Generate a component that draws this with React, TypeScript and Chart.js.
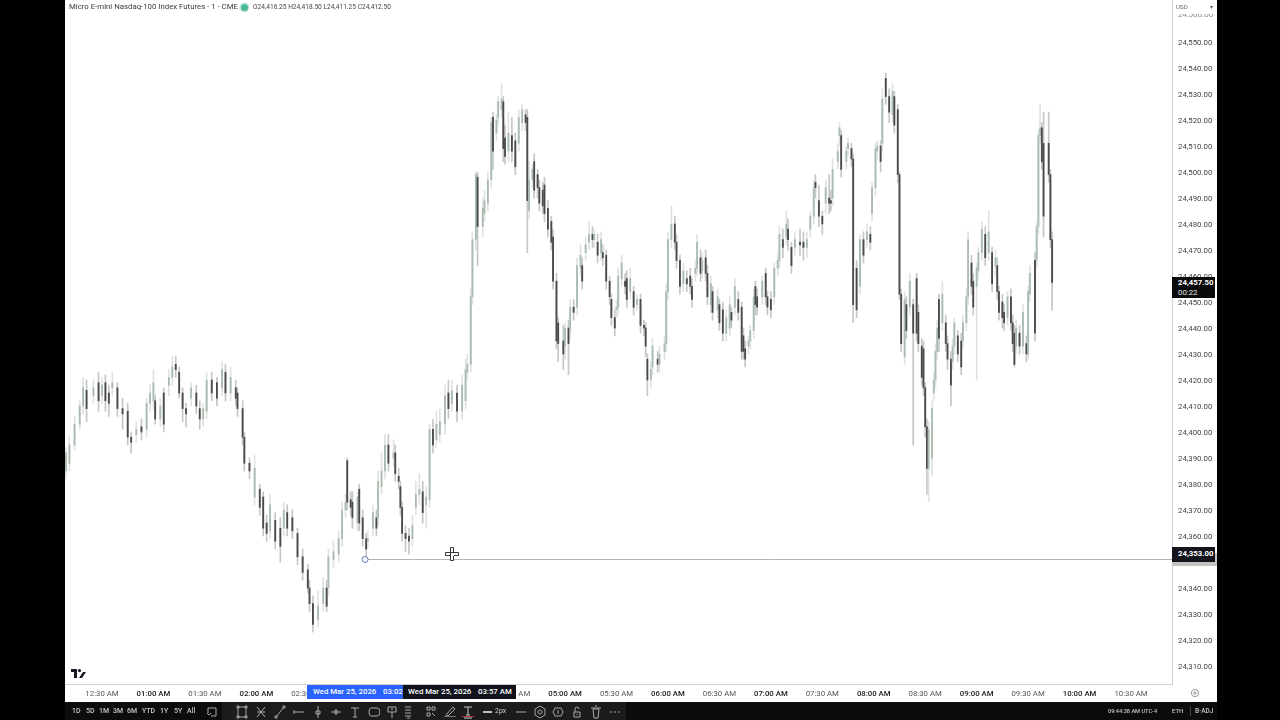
import React, { useEffect, useRef } from "react";
import { Chart, registerables } from "chart.js";

Chart.register(...registerables);

const FONT = 'Roboto, sans-serif';

// minutes since midnight, one entry per bar
const barTimes = [
  9,11,14,17,19,21,25,28,30,32,
  34,36,39,42,45,47,50,53,56,58,
  60,61,64,66,69,71,73,75,77,79,
  82,85,87,89,91,94,97,100,102,105,
  108,109,112,113,116,119,122,124,126,128,
  131,134,136,138,141,144,147,150,151,153,
  156,159,161,162,165,168,170,172,173,175,
  176,179,180,182,184,185,188,190,191,193,
  195,197,200,201,203,204,205,207,209,211,
  213,215,217,219,221,223,225,227,230,232,
  234,237,240,242,243,245,246,248,249,252,
  253,255,257,258,260,261,263,264,265,267,
  269,271,273,275,277,278,279,281,282,284,
  285,287,288,290,292,293,295,296,299,300,
  302,303,305,307,309,310,312,314,316,317,
  319,321,322,324,326,327,329,330,331,333,
  335,336,338,340,342,344,346,347,348,350,
  351,354,355,358,359,360,362,364,365,367,
  369,371,373,374,376,377,379,380,382,383,
  385,386,389,390,392,394,396,397,399,401,
  403,404,405,407,408,410,411,412,415,417,
  418,420,422,424,425,427,429,430,432,434,
  437,439,441,443,445,446,448,450,452,454,
  455,456,459,460,461,464,465,467,468,470,
  472,474,476,478,479,481,482,484,485,487,
  489,491,492,494,495,496,498,499,501,503,
  505,506,508,509,510,511,512,514,515,516,
  517,518,520,522,523,525,526,527,529,531,
  532,534,535,537,538,540,541,543,545,547,
  549,551,552,553,555,556,558,560,561,562,
  563,565,567,569,570,571,574,575,576,577,
  578,579,582,583,584,
];

const barOpens = [
  24385,24388,24395,24403,24410,24416,24414,24419,24414,24419,
  24415,24417,24417,24409,24408,24398,24399,24402,24401,24411,
  24412,24412,24405,24415,24418,24421,24426,24423,24415,24409,
  24413,24415,24409,24405,24408,24420,24419,24417,24423,24415,
  24417,24415,24409,24398,24388,24375,24378,24375,24365,24362,
  24366,24363,24363,24369,24367,24361,24352,24347,24340,24334,
  24328,24334,24340,24340,24351,24353,24359,24370,24389,24374,
  24373,24365,24378,24367,24359,24358,24363,24367,24367,24379,
  24385,24395,24390,24392,24383,24379,24371,24361,24360,24359,
  24371,24376,24377,24372,24374,24401,24397,24399,24403,24415,
  24411,24415,24408,24412,24423,24426,24452,24474,24498,24479,
  24484,24488,24497,24521,24515,24521,24524,24527,24513,24508,
  24514,24512,24511,24519,24522,24521,24485,24497,24504,24499,
  24494,24493,24495,24486,24481,24475,24458,24442,24435,24433,
  24440,24439,24448,24448,24463,24464,24469,24473,24476,24474,
  24473,24469,24469,24468,24458,24451,24444,24447,24448,24459,
  24458,24459,24454,24454,24449,24451,24441,24440,24428,24420,
  24425,24428,24426,24431,24434,24454,24474,24480,24473,24466,
  24457,24459,24460,24456,24461,24463,24467,24462,24467,24461,
  24449,24454,24447,24449,24447,24438,24440,24446,24448,24451,
  24448,24437,24432,24433,24435,24439,24456,24452,24452,24461,
  24452,24451,24452,24463,24466,24474,24475,24478,24471,24471,
  24473,24473,24471,24478,24483,24496,24489,24483,24488,24490,
  24489,24490,24504,24514,24514,24504,24509,24509,24505,24463,
  24456,24474,24474,24476,24484,24494,24508,24510,24511,24536,
  24529,24522,24529,24524,24499,24453,24429,24449,24448,24449,
  24459,24446,24433,24432,24417,24402,24386,24390,24415,24420,
  24431,24451,24442,24442,24434,24428,24427,24433,24437,24435,
  24435,24442,24452,24465,24458,24456,24462,24469,24476,24469,
  24469,24464,24464,24454,24450,24446,24444,24452,24442,24438,
  24433,24438,24433,24434,24430,24453,24466,24466,24479,24514,
  24517,24511,24511,24499,24474,
];

const barHighs = [
  24394,24398,24406,24412,24421,24420,24420,24423,24421,24422,
  24418,24423,24419,24413,24411,24400,24404,24405,24413,24418,
  24424,24414,24413,24417,24424,24429,24429,24425,24417,24411,
  24419,24418,24412,24411,24423,24423,24421,24427,24426,24425,
  24420,24417,24412,24400,24390,24391,24380,24377,24368,24376,
  24369,24367,24373,24372,24370,24363,24355,24349,24343,24337,
  24339,24344,24343,24355,24358,24362,24373,24376,24390,24377,
  24377,24377,24380,24370,24361,24362,24372,24370,24385,24392,
  24399,24399,24397,24395,24386,24381,24373,24364,24363,24368,
  24381,24384,24381,24379,24403,24405,24408,24409,24418,24420,
  24420,24418,24422,24428,24430,24455,24477,24500,24500,24490,
  24493,24500,24521,24523,24522,24529,24534,24529,24518,24523,
  24521,24515,24524,24526,24524,24524,24504,24503,24507,24501,
  24497,24496,24498,24489,24483,24478,24461,24444,24441,24442,
  24443,24451,24451,24467,24472,24467,24475,24481,24479,24478,
  24476,24477,24472,24470,24460,24453,24447,24451,24463,24468,
  24461,24462,24463,24456,24453,24453,24443,24442,24430,24427,
  24436,24431,24433,24437,24457,24477,24487,24483,24476,24468,
  24465,24462,24463,24459,24466,24476,24470,24469,24470,24464,
  24460,24456,24455,24451,24450,24447,24452,24448,24459,24454,
  24450,24440,24435,24437,24441,24455,24458,24455,24460,24463,
  24454,24454,24465,24469,24479,24478,24485,24482,24473,24477,
  24478,24477,24477,24485,24497,24499,24495,24485,24497,24499,
  24493,24505,24511,24519,24516,24510,24513,24511,24507,24466,
  24476,24477,24480,24479,24496,24511,24512,24512,24532,24538,
  24532,24534,24531,24526,24500,24455,24454,24452,24461,24451,
  24461,24449,24436,24435,24419,24405,24404,24412,24423,24434,
  24443,24453,24458,24445,24437,24431,24436,24444,24439,24438,
  24445,24455,24477,24468,24461,24465,24471,24481,24479,24485,
  24471,24470,24467,24456,24453,24449,24454,24455,24445,24441,
  24443,24441,24449,24437,24456,24464,24469,24481,24516,24526,
  24519,24523,24523,24501,24477,
];

const barLows = [
  24382,24385,24393,24401,24407,24404,24411,24408,24411,24408,
  24406,24414,24406,24401,24395,24392,24396,24397,24398,24408,
  24409,24403,24402,24400,24414,24418,24421,24413,24404,24402,
  24410,24407,24401,24402,24405,24412,24410,24414,24412,24412,
  24410,24406,24395,24385,24382,24372,24368,24360,24358,24359,
  24355,24350,24360,24360,24359,24349,24343,24338,24331,24323,
  24325,24331,24331,24337,24348,24350,24356,24367,24370,24368,
  24363,24362,24362,24356,24352,24355,24360,24360,24364,24376,
  24382,24385,24387,24381,24378,24368,24358,24354,24353,24356,
  24368,24372,24365,24363,24371,24392,24394,24396,24399,24405,
  24408,24404,24405,24409,24420,24423,24449,24470,24464,24475,
  24481,24485,24494,24501,24512,24518,24521,24504,24503,24504,
  24504,24499,24508,24516,24516,24469,24482,24494,24490,24490,
  24485,24484,24481,24475,24470,24455,24432,24427,24424,24428,
  24422,24436,24443,24445,24460,24455,24466,24470,24471,24471,
  24465,24466,24464,24455,24449,24441,24437,24444,24445,24456,
  24453,24448,24451,24445,24447,24438,24437,24429,24414,24417,
  24422,24423,24423,24428,24431,24451,24471,24470,24463,24453,
  24454,24454,24453,24448,24458,24460,24458,24459,24458,24449,
  24446,24443,24444,24439,24435,24435,24437,24440,24445,24443,
  24428,24428,24425,24430,24432,24436,24445,24445,24449,24449,
  24445,24444,24449,24460,24463,24467,24472,24470,24461,24468,
  24468,24466,24467,24475,24480,24490,24479,24476,24484,24484,
  24485,24487,24501,24510,24498,24501,24506,24502,24442,24444,
  24453,24465,24471,24470,24481,24491,24505,24500,24508,24526,
  24519,24519,24515,24496,24451,24431,24426,24436,24445,24395,
  24435,24431,24418,24414,24398,24376,24373,24383,24412,24417,
  24428,24431,24439,24431,24424,24410,24424,24430,24427,24422,
  24432,24439,24449,24453,24445,24420,24459,24466,24464,24466,
  24454,24460,24451,24443,24440,24439,24441,24439,24431,24425,
  24430,24430,24430,24427,24428,24450,24435,24463,24476,24511,
  24501,24475,24496,24471,24447,
];

const barCloses = [
  24392,24395,24403,24410,24417,24409,24417,24412,24418,24412,
  24411,24419,24409,24407,24398,24396,24401,24400,24411,24415,
  24419,24405,24410,24403,24421,24425,24424,24415,24409,24407,
  24417,24410,24405,24409,24420,24415,24413,24424,24415,24421,
  24413,24409,24398,24388,24385,24386,24371,24363,24361,24372,
  24358,24356,24370,24363,24362,24352,24346,24340,24334,24326,
  24333,24340,24333,24352,24354,24359,24370,24373,24373,24371,
  24367,24375,24365,24359,24355,24359,24369,24363,24381,24385,
  24395,24388,24392,24384,24381,24371,24361,24359,24358,24364,
  24376,24378,24369,24375,24401,24395,24403,24404,24414,24409,
  24416,24408,24418,24424,24426,24452,24474,24499,24479,24486,
  24489,24497,24519,24508,24520,24527,24528,24509,24506,24515,
  24508,24502,24521,24524,24519,24489,24497,24501,24493,24494,
  24488,24487,24484,24478,24473,24458,24435,24434,24430,24440,
  24434,24448,24446,24464,24468,24458,24472,24476,24474,24476,
  24468,24474,24467,24458,24452,24444,24440,24448,24460,24465,
  24456,24451,24459,24448,24451,24441,24440,24433,24420,24424,
  24433,24426,24430,24434,24454,24474,24480,24473,24466,24456,
  24462,24457,24456,24451,24463,24473,24461,24466,24461,24452,
  24457,24446,24452,24442,24438,24444,24449,24443,24456,24446,
  24431,24431,24428,24435,24439,24452,24449,24448,24458,24452,
  24448,24447,24463,24466,24476,24471,24480,24474,24464,24474,
  24472,24471,24474,24483,24494,24494,24483,24480,24494,24488,
  24488,24501,24508,24517,24501,24508,24511,24505,24449,24447,
  24474,24468,24477,24473,24494,24509,24510,24504,24528,24529,
  24523,24531,24518,24499,24453,24434,24451,24439,24458,24438,
  24438,24434,24421,24417,24402,24386,24401,24409,24420,24431,
  24440,24436,24453,24434,24428,24418,24433,24442,24430,24425,
  24442,24452,24474,24456,24448,24463,24469,24478,24467,24477,
  24457,24467,24454,24446,24444,24442,24452,24442,24434,24426,
  24440,24433,24446,24430,24454,24461,24438,24479,24514,24517,
  24504,24483,24499,24474,24457.5,
];

const timeTicks = [30,60,90,120,150,180,210,240,270,300,330,360,390,420,450,480,510,540,570,600,630];
const priceTicks = [24310,24320,24330,24340,24350,24360,24370,24380,24390,24400,24410,24420,24430,24440,24450,24460,24470,24480,24490,24500,24510,24520,24530,24540,24550];

const xRange = [8.43, 653.9];
const yRange = [24303.08, 24566.15];

const drawnLinePrice = 24351.2;
const drawnLineStart = 183.4;
const cursorPrice = 24353;
const cursorTime = 234;

const rangeButtons = ["1D","5D","1M","3M","6M","YTD","1Y","5Y","All"];
const rangeButtonX = [72,86,99,113,127,142,160,174,187];

function formatTime(m: number) {
  const h = Math.floor(m / 60) % 24;
  const mm = m % 60;
  const h12 = h % 12 === 0 ? 12 : h % 12;
  return `${String(h12).padStart(2, "0")}:${String(mm).padStart(2, "0")} ${h < 12 ? "AM" : "PM"}`;
}

const isUp = (i: number) => barCloses[i] >= barOpens[i];

const overlay = {
  id: "overlayMarks",
  afterDatasetsDraw(chart: any) {
    const { ctx, scales, chartArea } = chart;
    const y = scales.y.getPixelForValue(drawnLinePrice);
    const x0 = scales.x.getPixelForValue(drawnLineStart);
    ctx.save();
    ctx.strokeStyle = "#b4b4b4";
    ctx.lineWidth = 1;
    ctx.beginPath();
    ctx.moveTo(x0, Math.round(y) + 0.5);
    ctx.lineTo(chartArea.right, Math.round(y) + 0.5);
    ctx.stroke();
    ctx.beginPath();
    ctx.fillStyle = "#ffffff";
    ctx.strokeStyle = "#5a78b8";
    ctx.arc(x0, Math.round(y) + 0.5, 3, 0, Math.PI * 2);
    ctx.fill();
    ctx.stroke();
    const cx = scales.x.getPixelForValue(cursorTime);
    const cy = scales.y.getPixelForValue(cursorPrice);
    ctx.fillStyle = "#ffffff";
    ctx.strokeStyle = "#333333";
    ctx.beginPath();
    ctx.rect(Math.round(cx) - 1.5, Math.round(cy) - 6.5, 3, 13);
    ctx.rect(Math.round(cx) - 6.5, Math.round(cy) - 1.5, 13, 3);
    ctx.fill();
    ctx.stroke();
    ctx.fillStyle = "#ffffff";
    ctx.fillRect(Math.round(cx) - 1, Math.round(cy) - 1, 3, 3);
    ctx.restore();
  },
};

const abs = (left: number, top: number, width: number, height: number, extra: React.CSSProperties = {}): React.CSSProperties => ({
  position: "absolute", left, top, width, height, ...extra,
});

const textStyle = (left: number, top: number, size: number, color: string, extra: React.CSSProperties = {}): React.CSSProperties => ({
  position: "absolute", left, top, fontFamily: FONT, fontSize: size, lineHeight: "12px", color, whiteSpace: "nowrap", ...extra,
});

function Icon({ x, d, color = "#a8a8a8" }: { x: number; d: string; color?: string }) {
  return (
    <svg style={{ position: "absolute", left: x - 6, top: 705 }} width={12} height={14} viewBox="0 0 12 14">
      <path d={d} fill="none" stroke={color} strokeWidth={1} />
    </svg>
  );
}

const toolIcons: [number, string][] = [
  [212, "M2 3H10V11H5M2 3V8M1 8L3 10L5 8"],
  [242, "M2 2H10V12H2ZM1 1H3V3H1ZM9 1H11V3H9ZM1 11H3V13H1ZM9 11H11V13H9Z"],
  [261, "M2 2L10 12M10 2L2 12M2 7H10"],
  [280, "M2 12L10 2M1 11H3V13H1ZM9 1H11V3H9Z"],
  [299, "M1 7H11M1 5V9"],
  [318, "M6 1V13M4 6H8V9H4Z"],
  [336, "M1 7H11M5 5H7V9H5Z"],
  [355, "M2 3H10M6 3V12M4 12H8"],
  [374, "M3 3H9A3 4 0 0 1 9 11H3A2 4 0 0 1 3 3Z"],
  [392, "M2 2H10V7H2ZM6 7V13M5 4H7"],
  [408, "M3 2H9M3 5H9M3 8H9M3 11H9M5 13H8"],
  [431, "M2 2H5V5H2ZM7 2H10V5H7ZM2 8H5V11H2ZM7 8L10 11"],
  [450, "M2 10L9 2L11 4L4 11Z"],
  [468, "M2 2H10M6 2V10M4 10H8M2 13H10"],
  [521, "M1 7H11"],
  [540, "M6 1L11 4V10L6 13L1 10V4ZM6 5A2 2 0 1 1 5.9 5"],
  [558, "M3 3H9L11 7L9 11H3L1 7ZM6 5V9"],
  [577, "M3 7H9V12H3ZM4 7V4A2 2 0 0 1 8 4M6 9V10"],
  [596, "M3 4H9L8 13H4ZM1 3H11M5 1H7"],
  [615, "M1 7H3M5 7H7M9 7H11"],
];

export default function App() {
  const ref = useRef<HTMLCanvasElement>(null);

  useEffect(() => {
    const chart = new Chart(ref.current as HTMLCanvasElement, {
      type: "bar",
      data: {
        datasets: [
          {
            label: "Range",
            order: 2,
            barThickness: 1,
            grouped: false,
            data: barTimes.map((t, i) => ({ x: t, y: [barLows[i], barHighs[i]] })),
            backgroundColor: (c: any) => (isUp(c.dataIndex) ? "#dfe3e0" : "#c6c6c6"),
          },
          {
            label: "Open / close",
            order: 1,
            barThickness: 1.2,
            grouped: false,
            data: barTimes.map((t, i) => ({ x: t, y: [barOpens[i], barCloses[i]] })),
            backgroundColor: (c: any) => (isUp(c.dataIndex) ? "#aabbaf" : "#4a4a4a"),
          },
        ] as any,
      },
      options: {
        responsive: false,
        animation: false,
        layout: { padding: { left: 65, right: 63, top: 0, bottom: 18 } },
        plugins: { legend: { display: false }, tooltip: { enabled: false }, title: { display: false } },
        scales: {
          x: {
            type: "linear",
            offset: false,
            min: xRange[0],
            max: xRange[1],
            grid: { display: false, drawTicks: false },
            border: { display: true, color: "#cfcfcf" },
            afterBuildTicks: (s: any) => { s.ticks = timeTicks.map((value) => ({ value })); },
            afterFit: (s: any) => { s.height = 18; s.paddingLeft = 0; s.paddingRight = 0; },
            ticks: {
              autoSkip: false,
              maxRotation: 0,
              padding: 5,
              callback: (v: any) => formatTime(Number(v)),
              font: (c: any) => ({ family: FONT, size: 7.8, weight: c.tick && c.tick.value % 60 === 0 ? "500" : "400" }),
              color: (c: any) => (c.tick && c.tick.value % 60 === 0 ? "#222222" : "#555555"),
            },
          },
          y: {
            type: "linear",
            position: "right",
            min: yRange[0],
            max: yRange[1],
            grid: { display: false, drawTicks: false },
            border: { display: true, color: "#cfcfcf" },
            afterBuildTicks: (s: any) => { s.ticks = priceTicks.map((value) => ({ value })); },
            afterFit: (s: any) => { s.width = 45; s.paddingTop = 0; s.paddingBottom = 0; },
            ticks: {
              autoSkip: false,
              padding: 6,
              labelOffset: 1,
              crossAlign: "near",
              callback: (v: any) => Number(v).toLocaleString("en-US", { minimumFractionDigits: 2, maximumFractionDigits: 2 }),
              font: { family: FONT, size: 7.8 },
              color: "#444444",
            },
          },
        },
      } as any,
      plugins: [overlay],
    });
    return () => chart.destroy();
  }, []);

  return (
    <div style={{ position: "fixed", left: 0, top: 0, width: 1280, height: 720, overflow: "hidden", background: "#ffffff" }}>
      <canvas ref={ref} width={1280} height={720} style={{ position: "absolute", left: 0, top: 0, width: 1280, height: 720 }} />

      {/* side pillars and bottom toolbar */}
      <div style={abs(0, 0, 65, 720, { background: "#000" })} />
      <div style={abs(1217, 0, 63, 720, { background: "#000" })} />
      <div style={abs(65, 702, 1152, 18, { background: "#0c0c0c" })} />
      <div style={abs(222, 702, 404, 18, { background: "#1c1c1c" })} />

      {/* header */}
      <div style={textStyle(69, 1, 7.8, "#3a3a3a")}>Micro E-mini Nasdaq-100 Index Futures - 1 - CME</div>
      <div style={abs(241, 4, 7, 7, { background: "#4db89a", borderRadius: 4, boxShadow: "0 0 0 1.5px #c4e8dd" })} />
      <div style={textStyle(253, 1, 6.6, "#444")}>O24,416.25 H24,418.50 L24,411.25 C24,412.50</div>

      {/* currency */}
      <div style={textStyle(1176, 1, 6.2, "#666")}>USD</div>
      <div style={textStyle(1210, 1, 6.2, "#666")}>▾</div>
      <div style={abs(1178, 14, 36, 3, { overflow: "hidden" })}>
        <div style={textStyle(0, -5, 8, "#888")}>24,560.00</div>
      </div>

      {/* last price tag */}
      <div style={abs(1172, 277, 43, 21, { background: "#0a0a0a" })} />
      <div style={textStyle(1178, 277, 7.8, "#fff", { fontWeight: 700, lineHeight: "11px" })}>24,457.50</div>
      <div style={textStyle(1178, 287, 7.8, "#e4e4e4", { lineHeight: "11px" })}>00:22</div>

      {/* cursor price tag */}
      <div style={abs(1172, 553, 45, 13, { background: "#c4c4c4" })} />
      <div style={abs(1172, 547, 43, 15, { background: "#14141c" })} />
      <div style={textStyle(1178, 548, 7.8, "#fff", { fontWeight: 700 })}>24,353.00</div>

      {/* time tags */}
      <div style={abs(307, 685, 96, 14, { background: "#2962ff" })} />
      <div style={textStyle(313, 686, 7.8, "#fff", { fontWeight: 500 })}>Wed Mar 25, 2026</div>
      <div style={abs(379, 686, 24, 12, { overflow: "hidden" })}>
        <div style={textStyle(4, 0, 7.8, "#fff", { fontWeight: 500 })}>03:02</div>
      </div>
      <div style={abs(403, 685, 113, 14, { background: "#10131c" })} />
      <div style={textStyle(408, 686, 7.8, "#fff", { fontWeight: 500 })}>Wed Mar 25, 2026</div>
      <div style={textStyle(478, 686, 7.8, "#fff", { fontWeight: 500 })}>03:57 AM</div>

      {/* TradingView mark */}
      <svg style={{ position: "absolute", left: 71, top: 669 }} width={15} height={9} viewBox="0 0 15 9">
        <path d="M0 0H6V9H3V3H0ZM12 3H15L11 9H8Z" fill="#131722" />
        <circle cx="8.5" cy="1.6" r="1.6" fill="#131722" />
      </svg>

      {/* axis settings gear */}
      <svg style={{ position: "absolute", left: 1190, top: 688 }} width={10} height={10} viewBox="0 0 10 10">
        <circle cx="5" cy="5" r="3.6" fill="none" stroke="#999" />
        <circle cx="5" cy="5" r="1.2" fill="none" stroke="#999" />
      </svg>

      {/* toolbar */}
      {rangeButtons.map((b, i) => (
        <div key={b} style={textStyle(rangeButtonX[i], 705, 7, "#c8c8c8", { fontWeight: 500 })}>{b}</div>
      ))}
      {toolIcons.map(([x, d]) => (
        <Icon key={x} x={x} d={d} color={x === 468 ? "#c8c8c8" : "#a8a8a8"} />
      ))}
      <div style={abs(444, 716, 12, 1, { background: "#777" })} />
      <div style={abs(462, 716, 12, 1, { background: "#b03a48" })} />
      <div style={abs(483, 711, 9, 1.5, { background: "#c0c0c0" })} />
      <div style={textStyle(495, 705, 7, "#c8c8c8")}>2px</div>
      <div style={textStyle(1108, 705, 5.6, "#c8c8c8", { fontWeight: 500 })}>09:44:38 AM UTC-4</div>
      <div style={textStyle(1172, 705, 6, "#c8c8c8", { fontWeight: 500 })}>ETH</div>
      <div style={abs(1190, 706, 1, 10, { background: "#444" })} />
      <div style={textStyle(1195, 705, 6.5, "#c8c8c8", { fontWeight: 500 })}>B-ADJ</div>
    </div>
  );
}
